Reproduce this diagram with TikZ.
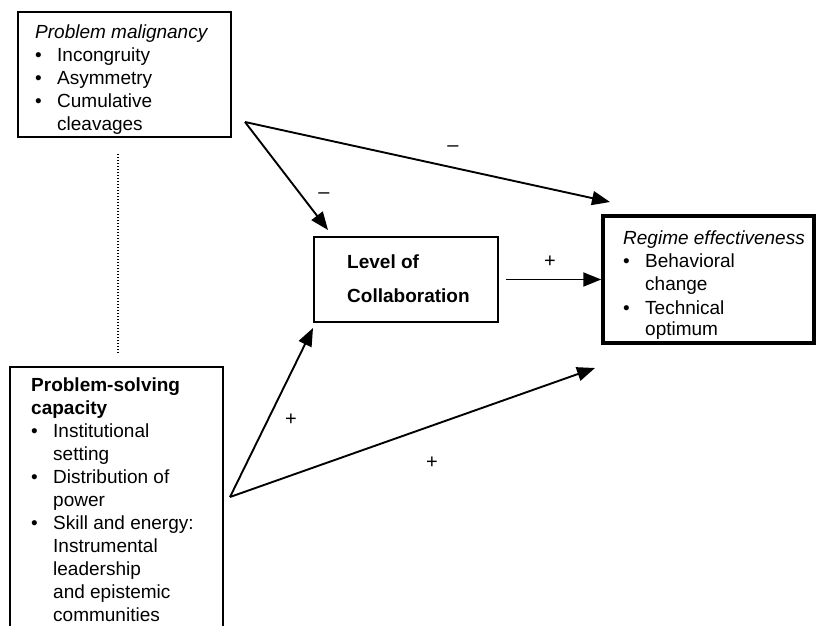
\documentclass[tikz,border=0pt]{standalone}
\usepackage{fontspec}
\setmainfont{Liberation Sans}
\usetikzlibrary{arrows.meta}

\newcommand{\itm}{\makebox[22pt][l]{\textbullet}}
\newcommand{\ind}{\hspace*{22pt}}

\begin{document}
\begin{tikzpicture}[x=1pt, y=-1pt,
    box/.style={draw, line width=1.8pt, inner sep=0pt},
    txt/.style={anchor=north west, align=left, inner sep=0pt, font=\fontsize{19}{23}\selectfont},
    sign/.style={inner sep=0pt, font=\fontsize{20}{20}\selectfont},
    link/.style={line width=1.9pt, -{Triangle[length=18pt, width=14pt]}}]
    \useasboundingbox (0,0) rectangle (817,626);

    % Boxes
    \node[box, minimum width=213pt, minimum height=125pt] (mal) at (124.5,74.5) {};
    \node[box, minimum width=213pt, minimum height=293pt] (cap) at (116.5,513.5) {};
    \node[box, minimum width=184pt, minimum height=85pt] (collab) at (406,279.5) {};
    \node[box, line width=3.5pt, minimum width=211pt, minimum height=127pt] (regime) at (708.5,279.5) {};

    % Box texts
    \node[txt] (mal-txt) at (35,25) {\textit{Problem malignancy}\\
        \itm Incongruity\\
        \itm Asymmetry\\
        \itm Cumulative\\
        \ind cleavages};
    \node[txt] (cap-txt) at (31,378) {\textbf{Problem-solving}\\
        \textbf{capacity}\\
        \itm Institutional\\
        \ind setting\\
        \itm Distribution of\\
        \ind power\\
        \itm Skill and energy:\\
        \ind Instrumental\\
        \ind leadership\\
        \ind and epistemic\\
        \ind communities};
    \node[txt] (collab-txt) at (347,255) {\textbf{Level of}\\[11pt]
        \textbf{Collaboration}};
    \node[txt] (regime-txt) at (623,231) {\textit{Regime effectiveness}\\
        \itm Behavioral\\
        \ind change\\[1pt]
        \itm Technical\\[-2pt]
        \ind optimum};

    % Arrow ends
    \coordinate (mal-out) at (245,122);
    \coordinate (cap-out) at (230,497);
    \coordinate (collab-in) at (328,230);
    \coordinate (collab-in2) at (313,328);
    \coordinate (regime-in) at (610,202);
    \coordinate (regime-in2) at (595,368);

    % Connectors
    \draw[dash pattern=on 1.2pt off 1.8pt, line width=1.2pt, shorten <=16pt, shorten >=12pt]
        ([xshift=-6.5pt]mal.south) -- ([xshift=1.5pt]cap.north);
    \draw[link] (mal-out) -- (regime-in);
    \draw[link] (mal-out) -- (collab-in);
    \draw[link, shorten <=7pt] (collab.east) -- (regime.west);
    \draw[link] (cap-out) -- (collab-in2);
    \draw[link] (cap-out) -- (regime-in2);

    % Signs
    \node[sign] (s1) at (453,149) {--};
    \node[sign] (s2) at (324,196) {--};
    \node[sign] (s3) at (550,262) {+};
    \node[sign] (s4) at (291,420) {+};
    \node[sign] (s5) at (432,463) {+};
\end{tikzpicture}
\end{document}
